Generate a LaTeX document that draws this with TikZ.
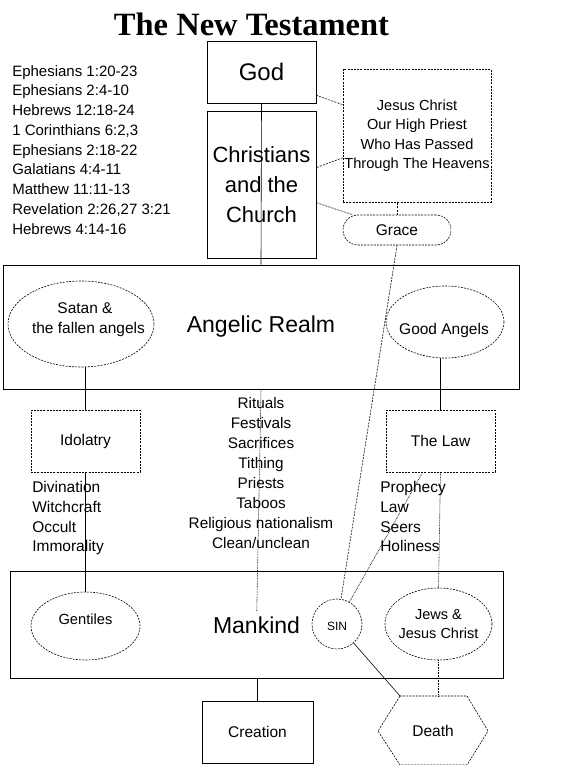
\documentclass[tikz,border=0pt]{standalone}
\usepackage{fontspec}
\setmainfont{Liberation Sans}
\newfontfamily\titlefont{Liberation Serif}

\tikzset{every picture/.style={line width=0.6pt}}
\tikzset{
  plainbox/.style={draw, inner sep=0pt, align=center},
  dashbox/.style={draw, dash pattern={on 2pt off 1.2pt}, inner sep=0pt, align=center},
  dashell/.style={draw, ellipse, dash pattern={on 2pt off 1.2pt}, inner sep=0pt, align=center},
  dashline/.style={dash pattern={on 2pt off 1.2pt}},
  dotline/.style={dash pattern={on 0.8pt off 0.8pt}},
  smalltext/.style={font=\fontsize{15.5}{19.75}\selectfont},
  bigtext/.style={font=\fontsize{23}{30}\selectfont},
}
% moves a line of text inside a shape without making the shape grow
\newcommand{\nudge}[3]{\raisebox{#2}[\height][\depth]{\makebox[0pt]{\hspace*{#1}#3}}}
\usetikzlibrary{shapes.geometric}

\begin{document}
\begin{tikzpicture}[x=1pt,y=1pt,yscale=-1,xscale=1]
\useasboundingbox (0,0) rectangle (564,765);

% Text Node
\node [anchor=base, inner sep=0pt, font=\titlefont\bfseries\fontsize{32.5}{36}\selectfont] (title) at (251.5,36) {The New Testament};
% Text Node
\node [anchor=north west, align=left, inner sep=0pt, font=\fontsize{15}{19.75}\selectfont] (verses) at (12,65) {Ephesians 1:20-23\\Ephesians 2:4-10\\Hebrews 12:18-24\\1 Corinthians 6:2,3\\Ephesians 2:18-22\\Galatians 4:4-11\\Matthew 11:11-13\\Revelation 2:26,27 3:21\\Hebrews 4:14-16};

%Shape: Rectangle [God]
\node [plainbox, minimum width=109, minimum height=62, font=\fontsize{24}{28}\selectfont] (god) at (261.5,72) {God};
%Shape: Rectangle [Christians]
\node [plainbox, minimum width=109, minimum height=147, font=\fontsize{22}{30}\selectfont] (christians) at (261.5,184.5) {Christians\\and the\\Church};
%Shape: Rectangle [Jesus]
\node [dashbox, minimum width=148, minimum height=133, font=\fontsize{14.6}{19.5}\selectfont] (jesus) at (417,135.5) {Jesus Christ\\Our High Priest\\Who Has Passed\\Through The Heavens};
%Shape: Rounded Rectangle [Grace]
\node [dashbox, rounded corners=15, minimum width=108, minimum height=30, smalltext] (grace) at (397,230) {Grace};

%Shape: Rectangle [Angelic Realm]
\node [plainbox, minimum width=516, minimum height=124, bigtext] (angelic) at (261,327) {Angelic Realm};
%Shape: Ellipse [Satan]
\node [dashell, minimum width=146, minimum height=86, smalltext] (satan) at (81,324) {\nudge{8pt}{4.5pt}{Satan \&}\\\nudge{15pt}{4.5pt}{the fallen angels}};
%Shape: Ellipse [Good Angels]
\node [dashell, minimum width=118, minimum height=72, smalltext] (good) at (445,322) {\nudge{-2pt}{-8pt}{Good Angels}};

%Shape: Rectangle [Idolatry]
\node [dashbox, minimum width=109, minimum height=62, smalltext] (idolatry) at (85.5,441) {Idolatry};
%Shape: Rectangle [The Law]
\node [dashbox, minimum width=109, minimum height=62, smalltext] (law) at (440.5,441) {The Law};

% Text Node
\node [anchor=north west, align=left, inner sep=0pt, smalltext] (pagan) at (32,481) {Divination\\Witchcraft\\Occult\\Immorality};
% Text Node
\node [anchor=north, align=center, inner sep=0pt, font=\fontsize{15.3}{20}\selectfont] (worship) at (261,397) {Rituals\\Festivals\\Sacrifices\\Tithing\\Priests\\Taboos\\Religious nationalism\\Clean/unclean};
% Text Node
\node [anchor=north west, align=left, inner sep=0pt, smalltext] (israel) at (380,481) {Prophecy\\Law\\Seers\\Holiness};

%Shape: Rectangle [Mankind]
\node [plainbox, minimum width=493, minimum height=107, bigtext] (mankind) at (256.5,625) {Mankind};
%Shape: Ellipse [Gentiles]
\node [dashell, minimum width=109, minimum height=68, font=\fontsize{14.7}{19}\selectfont] (gentiles) at (85.5,626) {\nudge{0pt}{6.5pt}{Gentiles}};
%Shape: Circle [SIN]
\node [dashell, circle, minimum size=50, font=\fontsize{12}{14}\selectfont] (sin) at (337,624) {\nudge{0pt}{-2.5pt}{SIN}};
%Shape: Ellipse [Jews]
\node [dashell, minimum width=107, minimum height=72, font=\fontsize{14.5}{19}\selectfont] (jews) at (438.5,624) {\nudge{0pt}{0pt}{Jews \&}\\\nudge{0pt}{0pt}{Jesus Christ}};

%Shape: Rectangle [Creation]
\node [plainbox, minimum width=111, minimum height=62, smalltext] (creation) at (257.5,732) {Creation};
%Shape: Hexagon [Death]
\draw [dash pattern={on 2pt off 1.2pt}] (400,696) coordinate (dnw) -- (467,696) -- (488,731) -- (467,765) -- (400,765) -- (378,731) -- cycle ;
\node [inner sep=0pt, smalltext] (death) at (433,731) {Death};

%Straight Lines
\draw (god.south) -- (angelic.north) ;
\draw [dashline] ([yshift=-8]god.south east) -- ([yshift=36]jesus.north west) ;
\draw [dashline] ([yshift=89]jesus.north west) -- ([yshift=57]christians.north east) ;
\draw [dashline] ([yshift=92]christians.north east) -- ([xshift=10]grace.north west) ;
\draw [dashline] (grace.north) -- (grace.north |- jesus.south) ;
\draw [dashline] (grace.south) -- (sin) ;
\draw (idolatry.north) -- (idolatry.north |- satan.south) ;
\draw (idolatry.south) -- (gentiles.north) ;
\draw (law.north) -- (law.north |- good.south) ;
\draw [dotline] (law.south) -- (jews.north) ;
\draw [dotline] ([xshift=37]law.south west) -- (sin) ;
\draw [dotline, shorten >=14] (angelic.south) -- (mankind.center) ;
\draw (mankind.south -| creation) -- (creation.north) ;
\draw (sin) -- (dnw) ;
\draw [dotline] (jews.south) -- (jews.south |- dnw) ;

\end{tikzpicture}
\end{document}
